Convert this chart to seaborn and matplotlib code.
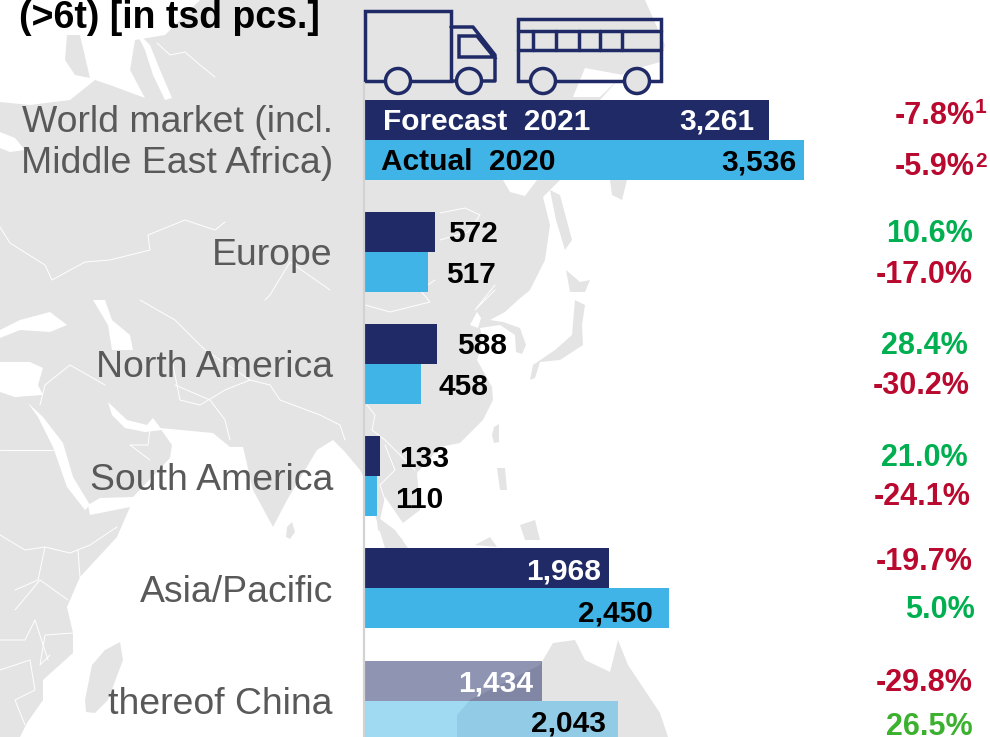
import pandas as pd
import matplotlib
matplotlib.use("Agg")
import matplotlib.pyplot as plt
from matplotlib.patches import Polygon, Circle
from matplotlib.transforms import ScaledTranslation
import seaborn as sns

# chart data
regions = ["World market (incl.\nMiddle East Africa)", "Europe", "North America",
           "South America", "Asia/Pacific", "thereof China"]
forecast_2021 = [3261, 572, 588, 133, 1968, 1434]
actual_2020 = [3536, 517, 458, 110, 2450, 2043]
change_2021 = ["-7.8%", "10.6%", "28.4%", "21.0%", "-19.7%", "-29.8%"]
change_2020 = ["-5.9%", "-17.0%", "-30.2%", "-24.1%", "5.0%", "26.5%"]

# label placement, px
fc_dx = [-15, 13, 20, 19, -8, -9]
ac_dx = [-7, 18, 18, 18, -16, -12]
fc_dy = [2, 2, 2, 3, 3, 3]
ac_dy = [3, 3, 3, 4, 5, 3]
fc_right = [975, 973, 968, 968, 973, 973]
ac_right = [975, 973, 970, 971, 975, 973]
fc_y = [116, 234, 346, 458, 562, 683]
ac_y = [167, 275, 386, 497, 610, 727]

NAVY = "#1F2A66"
BLUE = "#40B4E6"
RED = "#B9092F"
GREEN = "#00B050"
LAND = "#E4E4E4"
GREY_TXT = "#595959"

sns.set_theme(style="white")
plt.rcParams["font.family"] = ["Liberation Sans", "DejaVu Sans"]

df = pd.DataFrame({"region": regions, "Forecast 2021": forecast_2021, "Actual 2020": actual_2020})
df = df.melt(id_vars="region", var_name="year", value_name="pcs")

W, H = 990, 737
fig = plt.figure(figsize=(W / 100, H / 100), dpi=100, facecolor="white")

# background map, in pixel coords
bg = fig.add_axes([0, 0, 1, 1], zorder=0)
bg.set_xlim(0, W)
bg.set_ylim(H, 0)
bg.axis("off")

land = [
    (0, 0), (645, 0), (665, 45), (660, 62), (625, 72), (600, 100), (575, 130), (560, 180),
    (543, 197), (550, 225), (545, 260), (530, 290), (518, 300), (505, 312), (490, 320),
    (503, 322), (520, 328), (526, 345), (522, 354), (516, 352), (515, 335), (500, 325),
    (480, 328), (483, 340), (477, 360), (492, 387), (493, 400), (483, 420), (460, 443),
    (440, 447), (417, 473), (420, 510), (403, 523), (385, 497), (380, 520), (403, 540),
    (398, 545), (378, 530), (375, 500), (360, 470), (345, 452), (333, 440), (317, 450),
    (287, 500), (273, 527), (253, 490), (243, 447), (230, 447), (213, 433), (160, 428),
    (172, 445), (170, 458), (133, 497), (100, 498), (88, 505), (90, 515), (130, 507),
    (117, 537), (80, 577), (67, 607), (73, 633), (73, 653), (43, 680), (43, 700),
    (27, 723), (20, 737), (0, 737),
]
bg.add_patch(Polygon(land, fc=LAND, ec="none"))

islands = [
    [(85, 700), (92, 665), (105, 650), (120, 642), (123, 660), (108, 700), (95, 713), (86, 712)],  # madagascar
    [(287, 527), (292, 522), (295, 532), (290, 539), (286, 537)],  # sri lanka
    [(575, 300), (585, 305), (582, 325), (583, 345), (560, 360), (540, 362), (535, 378),
     (530, 380), (533, 365), (555, 350), (572, 335)],  # japan
    [(566, 270), (580, 282), (590, 280), (585, 292), (570, 292)],  # hokkaido
    [(550, 190), (560, 195), (572, 240), (565, 250), (556, 220)],  # sakhalin
    [(494, 427), (499, 424), (499, 442), (494, 443), (492, 435)],  # taiwan
    [(497, 468), (505, 468), (507, 490), (500, 490)],  # luzon
    [(520, 525), (535, 520), (540, 540), (525, 540)],  # mindanao
    [(553, 643), (575, 640), (585, 660), (610, 672), (618, 640), (628, 665), (660, 713),
     (668, 737), (457, 737), (457, 715), (470, 700), (540, 665)],  # australia
    [(475, 545), (490, 537), (497, 547)],  # borneo
    [(375, 515), (395, 530), (408, 548), (385, 548)],  # sumatra
    [(610, 180), (627, 180), (622, 200), (612, 195)],
]
for isl in islands:
    bg.add_patch(Polygon(isl, fc=LAND, ec="none"))

seas = [
    # north west atlantic + baltic
    [(0, 0), (200, 0), (165, 35), (135, 40), (130, 70), (145, 98), (110, 85), (95, 80),
     (70, 100), (30, 105), (0, 102)],
    [(135, 30), (150, 45), (160, 70), (172, 98), (165, 100), (153, 75), (145, 50)],
    # black sea, mediterranean, caspian
    [(0, 330), (20, 320), (50, 312), (67, 325), (50, 332), (20, 330), (0, 338)],
    [(0, 362), (30, 362), (43, 368), (38, 385), (43, 395), (15, 397), (0, 392)],
    [(93, 300), (105, 300), (112, 320), (130, 335), (133, 350), (112, 350), (108, 325)],
    # red sea, persian gulf
    [(28, 403), (43, 417), (63, 443), (73, 477), (90, 505), (85, 510), (67, 487), (53, 447), (38, 417)],
    [(108, 402), (127, 420), (147, 425), (153, 418), (162, 430), (145, 432), (125, 428), (112, 415)],
    # bohai
    [(470, 325), (477, 312), (481, 318), (478, 328)],
    # okhotsk, below the world bars
    [(573, 97), (585, 68), (623, 75), (600, 97)],
    [(503, 180), (537, 180), (525, 196), (510, 192)],
    [(0, 132), (15, 138), (25, 150), (10, 152), (0, 148)],
]
for sea in seas:
    bg.add_patch(Polygon(sea, fc="white", ec="none"))
bg.add_patch(Polygon([(67, 35), (80, 35), (90, 78), (75, 75), (65, 60)], fc=LAND, ec="none"))

borders = [
    [(157, 43), (170, 55), (185, 52), (200, 65), (215, 77)],
    [(0, 227), (10, 243), (45, 265), (52, 280), (85, 262), (110, 260), (150, 250), (148, 235), (185, 220), (215, 230), (225, 222)],
    [(330, 290), (290, 262), (270, 295), (265, 300)],
    [(440, 213), (465, 208), (480, 215), (468, 232), (440, 240)],
    [(365, 305), (390, 312), (430, 302), (420, 290), (435, 280)],
    [(495, 285), (483, 300), (475, 310), (495, 290)],
    [(0, 450), (53, 450)],
    [(0, 535), (25, 550), (45, 547), (70, 553), (90, 545), (117, 527)],
    [(45, 547), (38, 580), (15, 590)],
    [(80, 577), (78, 550)],
    [(15, 610), (40, 580), (68, 600)],
    [(0, 640), (25, 640), (35, 620), (48, 660)],
    [(73, 633), (45, 635), (40, 665), (50, 655)],
    [(0, 670), (30, 660), (35, 690), (15, 700), (25, 725)],
    [(105, 385), (70, 365), (45, 385), (40, 405)],
    [(150, 430), (148, 445), (130, 445), (150, 460)],
    [(170, 350), (180, 400), (200, 405), (225, 390), (250, 380), (270, 385), (280, 400), (320, 415), (340, 425), (345, 440)],
    [(140, 300), (175, 320), (205, 350), (250, 380)],
    [(175, 385), (210, 400), (225, 420), (230, 440)],
    [(367, 405), (375, 415), (372, 430), (385, 440), (395, 450), (415, 470)],
    [(385, 445), (395, 470), (380, 485), (385, 500)],
]
for line in borders:
    bg.plot(*zip(*line), color="white", lw=0.7, solid_capstyle="round")

# truck and bus icons
ICON_LW = 2.5
def outline(pts):
    bg.add_patch(Polygon(pts, closed=True, fc="none", ec=NAVY, lw=ICON_LW, joinstyle="miter", zorder=2))

outline([(365, 11), (451, 11), (451, 81), (365, 81)])
bg.plot([451, 473, 495, 495, 451], [27, 27, 55, 81, 81], color=NAVY, lw=ICON_LW, zorder=2)
outline([(459, 36), (477, 36), (494, 57), (459, 57)])
outline([(518, 19), (661, 19), (661, 81), (518, 81)])
bg.plot([518, 661], [31, 31], color=NAVY, lw=ICON_LW, zorder=2)
bg.plot([518, 661], [50, 50], color=NAVY, lw=ICON_LW, zorder=2)
for vx in [533, 556, 579, 600, 622]:
    bg.plot([vx, vx], [31, 50], color=NAVY, lw=ICON_LW, zorder=2)
for cx in [398, 469, 543, 637]:
    bg.add_patch(Circle((cx, 81), 12.5, fc=LAND, ec=NAVY, lw=ICON_LW, zorder=3))

bg.text(19, 28, "(>6t) [in tsd pcs.]", fontsize=27, fontweight="bold", color="black", ha="left", va="baseline")

# bars
PX_UNIT = 0.1245
PITCH = 112.2
Y0 = 139.5
left = 363.5
ax = fig.add_axes([left / W, 0, (W - left) / W, 1], zorder=1)
ax.patch.set_alpha(0)
sns.barplot(data=df, y="region", x="pcs", hue="year", hue_order=["Forecast 2021", "Actual 2020"],
            palette=[NAVY, BLUE], width=80 / PITCH, gap=0, legend=False, saturation=1,
            linewidth=0, ax=ax)
ax.set_xlim(0, (W - left) / PX_UNIT)
ylim_top = -Y0 / PITCH
ylim_bot = (H - Y0) / PITCH
ax.set_ylim(ylim_bot, ylim_top)
ax.set_xlabel("")
ax.set_ylabel("")
ax.set_xticks([])
sns.despine(ax=ax, top=True, right=True, bottom=True, left=False)
ax.spines["left"].set_color("#D2D2D2")
ax.spines["left"].set_linewidth(1.6)
ax.spines["left"].set_bounds((83 - Y0) / PITCH, ylim_bot)
ax.tick_params(axis="y", length=0, pad=22)
for t in ax.get_yticklabels():
    t.set_fontsize(26.9)
    t.set_color(GREY_TXT)
    t.set_linespacing(1.2)
# two-line label sits a bit high in the reference
first = ax.get_yticklabels()[0]
first.set_transform(first.get_transform() + ScaledTranslation(0, 3 / 100, fig.dpi_scale_trans))

for bars in ax.containers:
    bars[-1].set_alpha(0.5)

def value_label(bar, val, dx, dy, color):
    ha = "left" if dx > 0 else "right"
    ax.annotate(f"{val:,}", (bar.get_width(), bar.get_y() + bar.get_height() / 2),
                xytext=(dx, -dy), textcoords="offset pixels", ha=ha, va="center",
                fontsize=21.5, fontweight="bold", color=color, zorder=5)

for i in range(len(regions)):
    c0 = "white" if fc_dx[i] < 0 else "black"
    value_label(ax.containers[0][i], forecast_2021[i], fc_dx[i], fc_dy[i], c0)
    value_label(ax.containers[1][i], actual_2020[i], ac_dx[i], ac_dy[i], "black")

# legend names sit inside the first pair of bars
top = fig.add_axes([0, 0, 1, 1], zorder=2)
top.set_xlim(0, W)
top.set_ylim(H, 0)
top.axis("off")
top.text(383, 122, "Forecast  2021", fontsize=21.5, fontweight="bold", color="white", ha="left", va="center")
top.text(381, 162, "Actual  2020", fontsize=21.5, fontweight="bold", color="black", ha="left", va="center")

# yoy change column
def pct_color(s):
    return RED if s.startswith("-") else GREEN

for i in range(len(regions)):
    top.text(fc_right[i], fc_y[i], change_2021[i], fontsize=22, fontweight="bold",
             color=pct_color(change_2021[i]), ha="right", va="center")
    col = "#3CB12F" if change_2020[i] == "26.5%" else pct_color(change_2020[i])
    top.text(ac_right[i], ac_y[i], change_2020[i], fontsize=22, fontweight="bold",
             color=col, ha="right", va="center")
top.text(975, 107, "1", fontsize=15, fontweight="bold", color=RED, ha="left", va="center")
top.text(975, 161, "2", fontsize=15, fontweight="bold", color=RED, ha="left", va="center")

fig.savefig("out.png", dpi=100)
